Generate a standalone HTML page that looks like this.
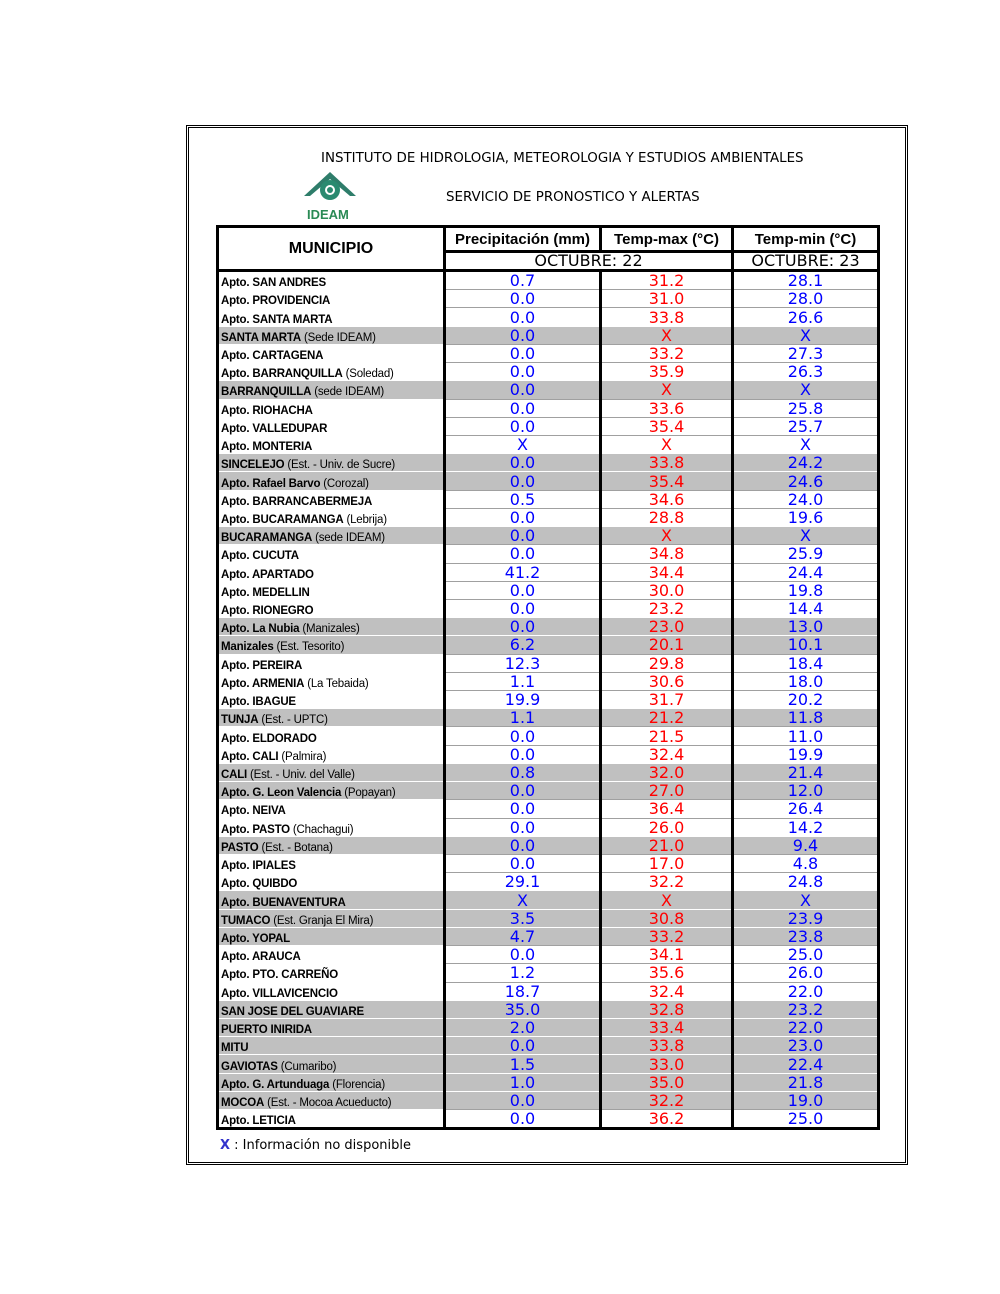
<!DOCTYPE html>
<html><head><meta charset="utf-8"><style>
body{margin:0;background:#fff;width:1000px;height:1294px;position:relative;font-family:"DejaVu Sans","Liberation Sans",sans-serif;}
.frame{position:absolute;left:188px;top:127px;width:716px;height:1034px;border:1px solid #000;box-shadow:0 0 0 1px #fff,0 0 0 2px #000;}
.t1{position:absolute;left:321px;top:151px;font-size:13.4px;white-space:nowrap;}
.t2{position:absolute;left:446px;top:190px;font-size:13.4px;}
table{position:absolute;left:216px;top:225px;width:661px;border-collapse:collapse;table-layout:fixed;border:3px solid #000;}
td{padding:0;overflow:hidden;white-space:nowrap;}
tr.d td{height:17.23px;line-height:17px;font-size:16px;text-align:center;border-top:1px solid #a0a0a0;}
tr.d td.m{font-family:"Liberation Sans",sans-serif;font-size:11.5px;letter-spacing:-0.2px;text-align:left;padding-left:2px;border-top:1px solid #fff;}
tr.d td.m span.w{position:relative;top:3px;}
tr.g td{background:#c0c0c0;border-top:1px solid #fff;}
td.c{border-left:3px solid #000;}
.b{color:#00f}.r{color:#f00}
th{font-family:"Liberation Sans",sans-serif;font-size:15px;font-weight:bold;padding:0;white-space:nowrap;overflow:hidden;}
</style></head><body>
<div class="frame"></div>
<div class="t1">INSTITUTO DE HIDROLOGIA, METEOROLOGIA Y ESTUDIOS AMBIENTALES</div>
<div class="t2">SERVICIO DE PRONOSTICO Y ALERTAS</div>
<svg style="position:absolute;left:302px;top:170px" width="56" height="52">
<path d="M2 26 L28 2 L54 26 L48 26 L28 9 L8 26Z" fill="#2e7d6a"/>
<circle cx="28" cy="20" r="10" fill="#2a8a70"/><circle cx="28" cy="20" r="5" fill="#fff"/><circle cx="28" cy="20" r="3" fill="#2a8a70"/>
<text x="5" y="49" font-family="Liberation Sans" font-weight="bold" font-size="13" fill="#2a8a55">IDEAM</text>
</svg>
<table>
<colgroup><col style="width:227px"><col style="width:156px"><col style="width:132px"><col style="width:146px"></colgroup>
<tr style="height:25px"><th rowspan="2" style="font-size:16px;border-bottom:3px solid #000">MUNICIPIO</th><th style="border-left:3px solid #000;border-bottom:3px solid #000">Precipitación (mm)</th><th style="border-left:3px solid #000;border-bottom:3px solid #000">Temp-max (°C)</th><th style="border-left:3px solid #000;border-bottom:3px solid #000">Temp-min (°C)</th></tr>
<tr style="height:17px;font-size:16px;text-align:center"><td colspan="2" style="border-left:3px solid #000;border-bottom:3px solid #000;line-height:16px">OCTUBRE: 22</td><td style="border-left:3px solid #000;border-bottom:3px solid #000;line-height:16px">OCTUBRE: 23</td></tr>
<tr class="d"><td class="m"><span class="w"><b>Apto. SAN ANDRES</b></span></td><td class="c b">0.7</td><td class="c r">31.2</td><td class="c b">28.1</td></tr>
<tr class="d"><td class="m"><span class="w"><b>Apto. PROVIDENCIA</b></span></td><td class="c b">0.0</td><td class="c r">31.0</td><td class="c b">28.0</td></tr>
<tr class="d"><td class="m"><span class="w"><b>Apto. SANTA MARTA</b></span></td><td class="c b">0.0</td><td class="c r">33.8</td><td class="c b">26.6</td></tr>
<tr class="d g"><td class="m"><span class="w"><b>SANTA MARTA</b> (Sede IDEAM)</span></td><td class="c b">0.0</td><td class="c r">X</td><td class="c b">X</td></tr>
<tr class="d"><td class="m"><span class="w"><b>Apto. CARTAGENA</b></span></td><td class="c b">0.0</td><td class="c r">33.2</td><td class="c b">27.3</td></tr>
<tr class="d"><td class="m"><span class="w"><b>Apto. BARRANQUILLA</b> (Soledad)</span></td><td class="c b">0.0</td><td class="c r">35.9</td><td class="c b">26.3</td></tr>
<tr class="d g"><td class="m"><span class="w"><b>BARRANQUILLA</b> (sede IDEAM)</span></td><td class="c b">0.0</td><td class="c r">X</td><td class="c b">X</td></tr>
<tr class="d"><td class="m"><span class="w"><b>Apto. RIOHACHA</b></span></td><td class="c b">0.0</td><td class="c r">33.6</td><td class="c b">25.8</td></tr>
<tr class="d"><td class="m"><span class="w"><b>Apto. VALLEDUPAR</b></span></td><td class="c b">0.0</td><td class="c r">35.4</td><td class="c b">25.7</td></tr>
<tr class="d"><td class="m"><span class="w"><b>Apto. MONTERIA</b></span></td><td class="c b">X</td><td class="c r">X</td><td class="c b">X</td></tr>
<tr class="d g"><td class="m"><span class="w"><b>SINCELEJO</b> (Est. - Univ. de Sucre)</span></td><td class="c b">0.0</td><td class="c r">33.8</td><td class="c b">24.2</td></tr>
<tr class="d g"><td class="m"><span class="w"><b>Apto. Rafael Barvo</b> (Corozal)</span></td><td class="c b">0.0</td><td class="c r">35.4</td><td class="c b">24.6</td></tr>
<tr class="d"><td class="m"><span class="w"><b>Apto. BARRANCABERMEJA</b></span></td><td class="c b">0.5</td><td class="c r">34.6</td><td class="c b">24.0</td></tr>
<tr class="d"><td class="m"><span class="w"><b>Apto. BUCARAMANGA</b> (Lebrija)</span></td><td class="c b">0.0</td><td class="c r">28.8</td><td class="c b">19.6</td></tr>
<tr class="d g"><td class="m"><span class="w"><b>BUCARAMANGA</b> (sede IDEAM)</span></td><td class="c b">0.0</td><td class="c r">X</td><td class="c b">X</td></tr>
<tr class="d"><td class="m"><span class="w"><b>Apto. CUCUTA</b></span></td><td class="c b">0.0</td><td class="c r">34.8</td><td class="c b">25.9</td></tr>
<tr class="d"><td class="m"><span class="w"><b>Apto. APARTADO</b></span></td><td class="c b">41.2</td><td class="c r">34.4</td><td class="c b">24.4</td></tr>
<tr class="d"><td class="m"><span class="w"><b>Apto. MEDELLIN</b></span></td><td class="c b">0.0</td><td class="c r">30.0</td><td class="c b">19.8</td></tr>
<tr class="d"><td class="m"><span class="w"><b>Apto. RIONEGRO</b></span></td><td class="c b">0.0</td><td class="c r">23.2</td><td class="c b">14.4</td></tr>
<tr class="d g"><td class="m"><span class="w"><b>Apto. La Nubia</b> (Manizales)</span></td><td class="c b">0.0</td><td class="c r">23.0</td><td class="c b">13.0</td></tr>
<tr class="d g"><td class="m"><span class="w"><b>Manizales</b> (Est. Tesorito)</span></td><td class="c b">6.2</td><td class="c r">20.1</td><td class="c b">10.1</td></tr>
<tr class="d"><td class="m"><span class="w"><b>Apto. PEREIRA</b></span></td><td class="c b">12.3</td><td class="c r">29.8</td><td class="c b">18.4</td></tr>
<tr class="d"><td class="m"><span class="w"><b>Apto. ARMENIA</b> (La Tebaida)</span></td><td class="c b">1.1</td><td class="c r">30.6</td><td class="c b">18.0</td></tr>
<tr class="d"><td class="m"><span class="w"><b>Apto. IBAGUE</b></span></td><td class="c b">19.9</td><td class="c r">31.7</td><td class="c b">20.2</td></tr>
<tr class="d g"><td class="m"><span class="w"><b>TUNJA</b> (Est. - UPTC)</span></td><td class="c b">1.1</td><td class="c r">21.2</td><td class="c b">11.8</td></tr>
<tr class="d"><td class="m"><span class="w"><b>Apto. ELDORADO</b></span></td><td class="c b">0.0</td><td class="c r">21.5</td><td class="c b">11.0</td></tr>
<tr class="d"><td class="m"><span class="w"><b>Apto. CALI</b> (Palmira)</span></td><td class="c b">0.0</td><td class="c r">32.4</td><td class="c b">19.9</td></tr>
<tr class="d g"><td class="m"><span class="w"><b>CALI</b> (Est. - Univ. del Valle)</span></td><td class="c b">0.8</td><td class="c r">32.0</td><td class="c b">21.4</td></tr>
<tr class="d g"><td class="m"><span class="w"><b>Apto. G. Leon Valencia</b> (Popayan)</span></td><td class="c b">0.0</td><td class="c r">27.0</td><td class="c b">12.0</td></tr>
<tr class="d"><td class="m"><span class="w"><b>Apto. NEIVA</b></span></td><td class="c b">0.0</td><td class="c r">36.4</td><td class="c b">26.4</td></tr>
<tr class="d"><td class="m"><span class="w"><b>Apto. PASTO</b> (Chachagui)</span></td><td class="c b">0.0</td><td class="c r">26.0</td><td class="c b">14.2</td></tr>
<tr class="d g"><td class="m"><span class="w"><b>PASTO</b> (Est. - Botana)</span></td><td class="c b">0.0</td><td class="c r">21.0</td><td class="c b">9.4</td></tr>
<tr class="d"><td class="m"><span class="w"><b>Apto. IPIALES</b></span></td><td class="c b">0.0</td><td class="c r">17.0</td><td class="c b">4.8</td></tr>
<tr class="d"><td class="m"><span class="w"><b>Apto. QUIBDO</b></span></td><td class="c b">29.1</td><td class="c r">32.2</td><td class="c b">24.8</td></tr>
<tr class="d g"><td class="m"><span class="w"><b>Apto. BUENAVENTURA</b></span></td><td class="c b">X</td><td class="c r">X</td><td class="c b">X</td></tr>
<tr class="d g"><td class="m"><span class="w"><b>TUMACO</b> (Est. Granja El Mira)</span></td><td class="c b">3.5</td><td class="c r">30.8</td><td class="c b">23.9</td></tr>
<tr class="d g"><td class="m"><span class="w"><b>Apto. YOPAL</b></span></td><td class="c b">4.7</td><td class="c r">33.2</td><td class="c b">23.8</td></tr>
<tr class="d"><td class="m"><span class="w"><b>Apto. ARAUCA</b></span></td><td class="c b">0.0</td><td class="c r">34.1</td><td class="c b">25.0</td></tr>
<tr class="d"><td class="m"><span class="w"><b>Apto. PTO. CARREÑO</b></span></td><td class="c b">1.2</td><td class="c r">35.6</td><td class="c b">26.0</td></tr>
<tr class="d"><td class="m"><span class="w"><b>Apto. VILLAVICENCIO</b></span></td><td class="c b">18.7</td><td class="c r">32.4</td><td class="c b">22.0</td></tr>
<tr class="d g"><td class="m"><span class="w"><b>SAN JOSE DEL GUAVIARE</b></span></td><td class="c b">35.0</td><td class="c r">32.8</td><td class="c b">23.2</td></tr>
<tr class="d g"><td class="m"><span class="w"><b>PUERTO INIRIDA</b></span></td><td class="c b">2.0</td><td class="c r">33.4</td><td class="c b">22.0</td></tr>
<tr class="d g"><td class="m"><span class="w"><b>MITU</b></span></td><td class="c b">0.0</td><td class="c r">33.8</td><td class="c b">23.0</td></tr>
<tr class="d g"><td class="m"><span class="w"><b>GAVIOTAS</b> (Cumaribo)</span></td><td class="c b">1.5</td><td class="c r">33.0</td><td class="c b">22.4</td></tr>
<tr class="d g"><td class="m"><span class="w"><b>Apto. G. Artunduaga</b> (Florencia)</span></td><td class="c b">1.0</td><td class="c r">35.0</td><td class="c b">21.8</td></tr>
<tr class="d g"><td class="m"><span class="w"><b>MOCOA</b> (Est. - Mocoa Acueducto)</span></td><td class="c b">0.0</td><td class="c r">32.2</td><td class="c b">19.0</td></tr>
<tr class="d"><td class="m"><span class="w"><b>Apto. LETICIA</b></span></td><td class="c b">0.0</td><td class="c r">36.2</td><td class="c b">25.0</td></tr>
</table>
<div style="position:absolute;left:220px;top:1138px;font-size:13px"><b style="color:#33c">X</b> : Información no disponible</div>
</body></html>
